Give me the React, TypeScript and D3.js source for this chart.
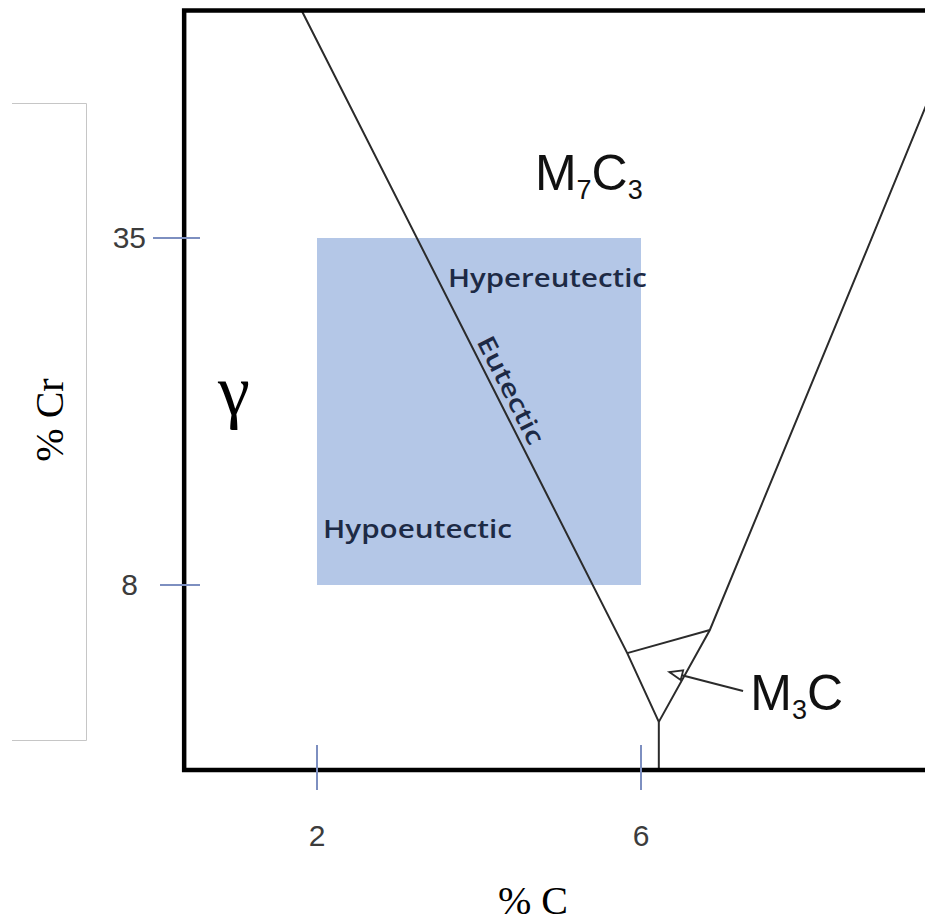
import React from 'react';
import * as d3 from 'd3';

// schematic Fe-Cr-C liquidus projection, values in %C / %Cr
const X_TICKS = [2, 6];
const Y_TICKS = [35, 8];

const EUTECTIC_C = [1.81, 5.83, 6.22];
const EUTECTIC_CR = [52.7, 2.7, -2.65];

const M7C3_C = [6.22, 6.85, 8.79, 10.0];
const M7C3_CR = [-2.65, 4.5, 34.1, 52.7];

const M3C_C = [5.83, 6.85];
const M3C_CR = [2.7, 4.5];

const STEM_C = [6.22, 6.22];
const STEM_CR = [-2.65, -6.4];

const ARROW_C = [7.26, 6.35];
const ARROW_CR = [-0.25, 1.23];

const BOX_C = [2, 6];
const BOX_CR = [8, 35];

const FRAME_C = [0.36, 9.6];
const FRAME_CR = [-6.4, 52.7];

const W = 925;
const H = 923;

const zip = (xs: number[], ys: number[]) => xs.map((x, i) => [x, ys[i]] as [number, number]);

const App: React.FC = () => {
  const x = d3.scaleLinear().domain([2, 6]).range([317, 641]);
  const y = d3.scaleLinear().domain([8, 35]).range([585, 238]);

  const line = d3.line<[number, number]>().x(d => x(d[0])).y(d => y(d[1]));

  const left = x(FRAME_C[0]);
  const bottom = y(FRAME_CR[0]);
  const top = y(FRAME_CR[1]);

  // arrow head (open triangle at tip)
  const tip: [number, number] = [x(ARROW_C[1]), y(ARROW_CR[1])];
  const tail: [number, number] = [x(ARROW_C[0]), y(ARROW_CR[0])];
  const ang = Math.atan2(tip[1] - tail[1], tip[0] - tail[0]);
  const hl = 13, hw = 5;
  const bx = tip[0] - hl * Math.cos(ang), by = tip[1] - hl * Math.sin(ang);
  const head = `M${tip[0]},${tip[1]}L${bx + hw * Math.sin(ang)},${by - hw * Math.cos(ang)}L${bx - hw * Math.sin(ang)},${by + hw * Math.cos(ang)}Z`;

  const eut = zip(EUTECTIC_C, EUTECTIC_CR);
  const eutAngle = Math.atan2(y(eut[1][1]) - y(eut[0][1]), x(eut[1][0]) - x(eut[0][0])) * 180 / Math.PI;

  const sans = 'Liberation Sans, Arial, sans-serif';
  const serif = 'Liberation Serif, Times New Roman, serif';
  const label = 'Open Sans, sans-serif';
  const navy = '#1d2a45';
  const tickCol = '#7d8fc0';

  return (
    <svg width={W} height={H} style={{ position: 'absolute', left: 0, top: 0, background: '#fff' }}>
      <defs>
        <clipPath id="plot">
          <rect x={left} y={top} width={W - left} height={bottom - top} />
        </clipPath>
      </defs>

      {/* gray bracket around the y title */}
      <path d="M12,103.5H86.5V740.5H12" fill="none" stroke="#c6c6c6" strokeWidth={1} />

      {/* shaded composition window */}
      <rect x={x(BOX_C[0])} y={y(BOX_CR[1])} width={x(BOX_C[1]) - x(BOX_C[0])} height={y(BOX_CR[0]) - y(BOX_CR[1])} fill="#b4c7e7" />

      <g clipPath="url(#plot)" fill="none" stroke="#2b2b2b" strokeWidth={2}>
        <path d={line(eut) || ''} />
        <path d={line(zip(M7C3_C, M7C3_CR)) || ''} />
        <path d={line(zip(M3C_C, M3C_CR)) || ''} />
        <path d={line(zip(STEM_C, STEM_CR)) || ''} />
        <path d={line(zip(ARROW_C, ARROW_CR)) || ''} />
        <path d={head} fill="#fff" strokeWidth={1.8} />
      </g>

      {/* frame */}
      <path d={`M${W},${top}H${left}V${bottom}H${W}`} fill="none" stroke="#000" strokeWidth={4.5} />

      {/* ticks */}
      {Y_TICKS.map((t, i) => (
        <g key={'y' + t}>
          <line x1={i === 0 ? 153 : 160} x2={200} y1={y(t)} y2={y(t)} stroke={tickCol} strokeWidth={2} />
          <text x={i === 0 ? 146 : 138} y={y(t) + 10} textAnchor="end" fontFamily={sans} fontSize={30} fill="#3c3c3c">{t}</text>
        </g>
      ))}
      {X_TICKS.map(t => (
        <g key={'x' + t}>
          <line x1={x(t)} x2={x(t)} y1={745} y2={790} stroke={tickCol} strokeWidth={2} />
          <text x={x(t)} y={846} textAnchor="middle" fontFamily={sans} fontSize={30} fill="#3c3c3c">{t}</text>
        </g>
      ))}

      {/* axis titles */}
      <text x={533} y={914} textAnchor="middle" fontFamily={serif} fontSize={40} fill="#000">% C</text>
      <text transform={`translate(63,420) rotate(-90)`} textAnchor="middle" fontFamily={serif} fontSize={40} fill="#000">% Cr</text>

      {/* phase labels */}
      <text x={x(0.975)} y={y(21.2)} textAnchor="middle" fontFamily={serif} fontSize={72} fill="#000">γ</text>
      <text x={x(4.69)} y={y(38.7)} fontFamily={sans} fontSize={50} fill="#111">
        M<tspan fontSize={27} dy={9}>7</tspan><tspan dy={-9}>C</tspan><tspan fontSize={27} dy={9}>3</tspan>
      </text>
      <text x={x(7.35)} y={y(-1.73)} fontFamily={sans} fontSize={50} fill="#111">
        M<tspan fontSize={27} dy={9}>3</tspan><tspan dy={-9}>C</tspan>
      </text>

      <text x={x(3.617)} y={y(31.19)} fontFamily={label} fontWeight={600} fontSize={25} fill={navy} textLength={199} lengthAdjust="spacingAndGlyphs">Hypereutectic</text>
      <text x={x(2.074)} y={y(11.66)} fontFamily={label} fontWeight={600} fontSize={25} fill={navy} textLength={189} lengthAdjust="spacingAndGlyphs">Hypoeutectic</text>
      <text transform={`translate(${x(4.296)},${y(22.86)}) rotate(${eutAngle})`} textAnchor="middle" fontFamily={label} fontWeight={600} fontSize={25} fill={navy} textLength={118} lengthAdjust="spacingAndGlyphs">Eutectic</text>
    </svg>
  );
};

export default App;
